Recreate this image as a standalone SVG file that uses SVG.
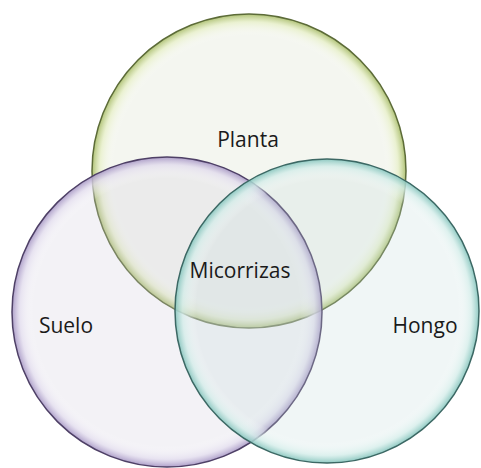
<svg xmlns="http://www.w3.org/2000/svg" width="481" height="468" viewBox="0 0 481 468">
<style>
.lbl{font-family:"Open Sans","Liberation Sans",sans-serif;font-size:21px;fill:#1a1a1a;text-anchor:middle}
.fill{fill-opacity:0.26}
</style>
<defs>
<radialGradient id="gTop">
<stop offset="0" stop-color="#ffffff" stop-opacity="0"/>
<stop offset="0.86" stop-color="#ffffff" stop-opacity="0"/>
<stop offset="0.95" stop-color="#e6efc4" stop-opacity="0.7"/>
<stop offset="1" stop-color="#a8bc68" stop-opacity="0.9"/>
</radialGradient>
<radialGradient id="gLeft">
<stop offset="0" stop-color="#ffffff" stop-opacity="0"/>
<stop offset="0.86" stop-color="#ffffff" stop-opacity="0"/>
<stop offset="0.95" stop-color="#e2dcee" stop-opacity="0.7"/>
<stop offset="1" stop-color="#a696c4" stop-opacity="0.9"/>
</radialGradient>
<radialGradient id="gRight">
<stop offset="0" stop-color="#ffffff" stop-opacity="0"/>
<stop offset="0.86" stop-color="#ffffff" stop-opacity="0"/>
<stop offset="0.95" stop-color="#d4eeea" stop-opacity="0.7"/>
<stop offset="1" stop-color="#84c4bc" stop-opacity="0.9"/>
</radialGradient>
</defs>
<rect width="481" height="468" fill="#ffffff"/>
<g id="planta">
<circle class="fill" cx="249" cy="171" r="157" fill="#d6dcc4"/>
<circle cx="249" cy="171" r="157" fill="url(#gTop)" stroke="#5c6b38" stroke-width="1.5"/>
</g>
<g id="suelo">
<circle class="fill" cx="167" cy="312" r="155" fill="#d2cddc"/>
<circle cx="167" cy="312" r="155" fill="url(#gLeft)" stroke="#4e4066" stroke-width="1.5"/>
</g>
<g id="hongo">
<circle class="fill" cx="327" cy="311" r="152" fill="#c6dedb"/>
<circle cx="327" cy="311" r="152" fill="url(#gRight)" stroke="#3c6864" stroke-width="1.5"/>
</g>
<g id="labels">
<text class="lbl" x="248" y="147">Planta</text>
<text class="lbl" x="66" y="333">Suelo</text>
<text class="lbl" x="425" y="333">Hongo</text>
<text class="lbl" x="240" y="278">Micorrizas</text>
</g>
</svg>
